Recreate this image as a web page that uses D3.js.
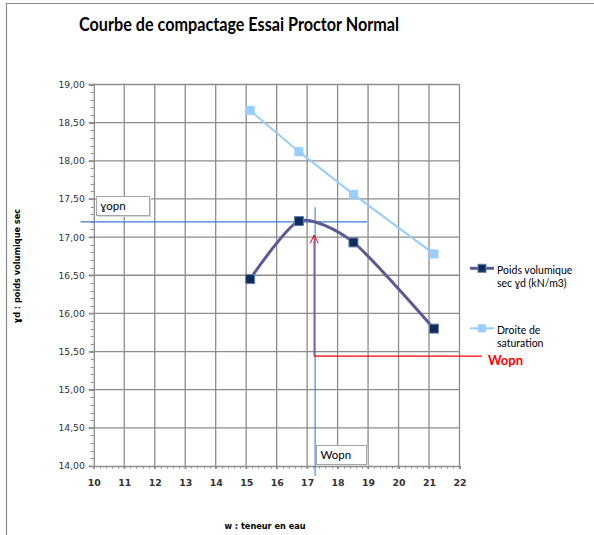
<!DOCTYPE html>
<html><head><meta charset="utf-8">
<script src="https://cdn.jsdelivr.net/npm/d3@7"></script>
<style>body{margin:0;background:#fff}svg{display:block}</style>
</head><body>
<script>
// ---- data ----
const waterContent = [15.13, 16.73, 18.52, 21.16];
const dryDensity = [16.45, 17.21, 16.93, 15.80];
const saturation = [18.66, 18.12, 17.56, 16.78];
const xTicks = [10,11,12,13,14,15,16,17,18,19,20,21,22];
const yTicks = [14,14.5,15,15.5,16,16.5,17,17.5,18,18.5,19];
const gammaOpn = 17.20;
const wOpn = 17.23;
const redLevel = 15.44;
const title = "Courbe de compactage Essai Proctor Normal";
const seriesNames = ["Poids volumique|sec \u0263d (kN/m3)", "Droite de|saturation"];

const W = 594, H = 535;
const svg = d3.select("body").append("svg").attr("width", W).attr("height", H);
const x = d3.scaleLinear([10, 22], [93.8, 459.5]);
const y = d3.scaleLinear([14, 19], [466, 84.5]);
const loc = d3.formatLocale({decimal: ",", thousands: " ", grouping: [3], currency: ["", "€"]});
const fmt = loc.format(".2f");

// frame
svg.append("path").attr("d", `M6.5,${H} V3.5 H${W}`).attr("fill", "none").attr("stroke", "#8a8a8a").attr("stroke-width", 1.2);

// title
svg.append("text").attr("x", 239).attr("y", 30.5).attr("text-anchor", "middle")
  .attr("font-family", "Lato, 'Open Sans', sans-serif").attr("font-weight", "bold").attr("font-size", 18.5)
  .attr("textLength", 320).attr("lengthAdjust", "spacingAndGlyphs").attr("fill", "#000").text(title);

const gridCol = "#8c8c8c";
// grid
svg.append("g").selectAll("line").data(xTicks.slice(1)).join("line")
  .attr("x1", d => x(d)).attr("x2", d => x(d)).attr("y1", y(19)).attr("y2", y(14) + 3)
  .attr("stroke", gridCol).attr("stroke-width", 1.3);
svg.append("g").selectAll("line").data(yTicks.slice(1)).join("line")
  .attr("x1", x(10) - 5).attr("x2", x(22)).attr("y1", d => y(d)).attr("y2", d => y(d))
  .attr("stroke", gridCol).attr("stroke-width", 1.3);

// axes
const yAxis = d3.axisLeft(y).tickValues(yTicks).tickFormat(fmt).tickSize(5).tickPadding(4);
const gy = svg.append("g").attr("transform", `translate(${x(10)},0)`).call(yAxis);
gy.select(".domain").attr("stroke", gridCol).attr("stroke-width", 1.3);
gy.selectAll(".tick line").attr("stroke", gridCol).attr("stroke-width", 1.3);
gy.selectAll("text").attr("font-family", "'DejaVu Sans', sans-serif").attr("font-size", 9.2).attr("fill", "#333");
// minor y ticks
svg.append("g").selectAll("line").data(d3.range(14, 19.001, 0.1)).join("line")
  .attr("x1", x(10) - 3).attr("x2", x(10)).attr("y1", d => Math.round(y(d)) + 0.5).attr("y2", d => Math.round(y(d)) + 0.5)
  .attr("stroke", gridCol).attr("stroke-width", 1);

const xAxis = d3.axisBottom(x).tickValues(xTicks).tickFormat(d3.format("d")).tickSize(3).tickPadding(10);
const gx = svg.append("g").attr("transform", `translate(0,${y(14)})`).call(xAxis);
gx.select(".domain").attr("stroke", gridCol).attr("stroke-width", 1.3);
gx.selectAll(".tick line").attr("stroke", gridCol).attr("stroke-width", 1.3);
gx.selectAll("text").attr("font-family", "'DejaVu Sans', sans-serif").attr("font-size", 9.4).attr("font-weight", "bold").attr("fill", "#333");
// minor x ticks
svg.append("g").selectAll("line").data(d3.range(10, 22.001, 0.2)).join("line")
  .attr("x1", d => Math.round(x(d)) + 0.5).attr("x2", d => Math.round(x(d)) + 0.5).attr("y1", y(14)).attr("y2", y(14) + 2.5)
  .attr("stroke", gridCol).attr("stroke-width", 1);

// axis titles
svg.append("text").attr("transform", "translate(20,266) rotate(-90)").attr("text-anchor", "middle")
  .attr("font-family", "'DejaVu Sans', sans-serif").attr("font-weight", "bold").attr("font-size", 8.2).attr("fill", "#000")
  .text("\u0263d : poids volumique sec");
svg.append("text").attr("x", 265).attr("y", 529).attr("text-anchor", "middle")
  .attr("font-family", "'DejaVu Sans', sans-serif").attr("font-weight", "bold").attr("font-size", 8.2).attr("fill", "#000")
  .text("w : teneur en eau");

// annotation lines
const blue = "#3f7fcf";
svg.append("line").attr("x1", x(9.57)).attr("x2", x(18.97)).attr("y1", y(gammaOpn)).attr("y2", y(gammaOpn))
  .attr("stroke", blue).attr("stroke-width", 1.1);
svg.append("line").attr("x1", x(wOpn) + 1).attr("x2", x(wOpn) + 1).attr("y1", y(17.39)).attr("y2", y(13.87))
  .attr("stroke", blue).attr("stroke-width", 1.1);

// series data
const pts = waterContent.map((w, i) => ({w, g: dryDensity[i], s: saturation[i]}));
// saturation line
const lightCol = "#99ccff";
svg.append("path").datum(pts).attr("fill", "none").attr("stroke", lightCol).attr("stroke-width", 2)
  .attr("d", d3.line().x(d => x(d.w)).y(d => y(d.s)));
svg.append("g").selectAll("rect").data(pts).join("rect")
  .attr("x", d => x(d.w) - 4.5).attr("y", d => y(d.s) - 4.5).attr("width", 9).attr("height", 9).attr("fill", lightCol);

// dry density curve
const darkLine = "#5a5a94";
svg.append("path").datum(pts).attr("fill", "none").attr("stroke", darkLine).attr("stroke-width", 3)
  .attr("d", d3.line().x(d => x(d.w)).y(d => y(d.g)).curve(d3.curveCardinal.tension(0.3)));
svg.append("g").selectAll("rect").data(pts).join("rect")
  .attr("x", d => x(d.w) - 4.5).attr("y", d => y(d.g) - 4.5).attr("width", 9).attr("height", 9)
  .attr("fill", "#0c2c5c").attr("stroke", "#6a7fa8").attr("stroke-width", 1);

// red arrow
const red = "#ff0000";
svg.append("line").attr("x1", x(wOpn)).attr("x2", x(wOpn)).attr("y1", y(17.0) - 2).attr("y2", y(redLevel))
  .attr("stroke", "#8a4f8c").attr("stroke-width", 1.3);
svg.append("path").attr("d", `M${x(wOpn) - 4},${y(17.0) + 6} L${x(wOpn)},${y(17.0) - 2} L${x(wOpn) + 4},${y(17.0) + 6}`)
  .attr("fill", "none").attr("stroke", red).attr("stroke-width", 1);
svg.append("line").attr("x1", x(wOpn)).attr("x2", x(22.74)).attr("y1", y(redLevel)).attr("y2", y(redLevel))
  .attr("stroke", red).attr("stroke-width", 1.2);
svg.append("text").attr("x", 488).attr("y", 364.5).attr("font-family", "Lato, 'Open Sans', sans-serif")
  .attr("font-weight", "bold").attr("font-size", 13).attr("fill", red).text("Wopn");

// label boxes
function box(bx, by, bw, bh, label) {
  svg.append("rect").attr("x", bx + 1.5).attr("y", by + 1.5).attr("width", bw).attr("height", bh).attr("fill", "#d8d8d8");
  svg.append("rect").attr("x", bx).attr("y", by).attr("width", bw).attr("height", bh).attr("fill", "#fff")
    .attr("stroke", "#a6a6a6").attr("stroke-width", 1);
  svg.append("text").attr("x", bx + 4).attr("y", by + bh / 2 + 4).attr("font-family", "Lato, 'Open Sans', sans-serif")
    .attr("font-size", 11.5).attr("fill", "#000").text(label);
}
box(96.5, 196.5, 53, 19, "\u0263opn");
box(316.5, 445.5, 50, 19, "Wopn");

// legend
const legendCols = [{line: darkLine, fill: "#0c2c5c", stroke: "#6a7fa8", w: 3}, {line: lightCol, fill: lightCol, stroke: "none", w: 2}];
const legY = [268.3, 328.3];
seriesNames.forEach((n, i) => {
  const c = legendCols[i];
  svg.append("line").attr("x1", 470).attr("x2", 494).attr("y1", legY[i]).attr("y2", legY[i]).attr("stroke", c.line).attr("stroke-width", c.w);
  svg.append("rect").attr("x", 482 - 4).attr("y", legY[i] - 4).attr("width", 8).attr("height", 8).attr("fill", c.fill).attr("stroke", c.stroke);
  n.split("|").forEach((t, j) => {
    svg.append("text").attr("x", 497).attr("y", legY[i] + 5.5 + j * 13).attr("font-family", "Lato, 'Open Sans', sans-serif")
      .attr("font-size", 10.5).attr("fill", "#000").text(t);
  });
});
</script>
</body></html>
